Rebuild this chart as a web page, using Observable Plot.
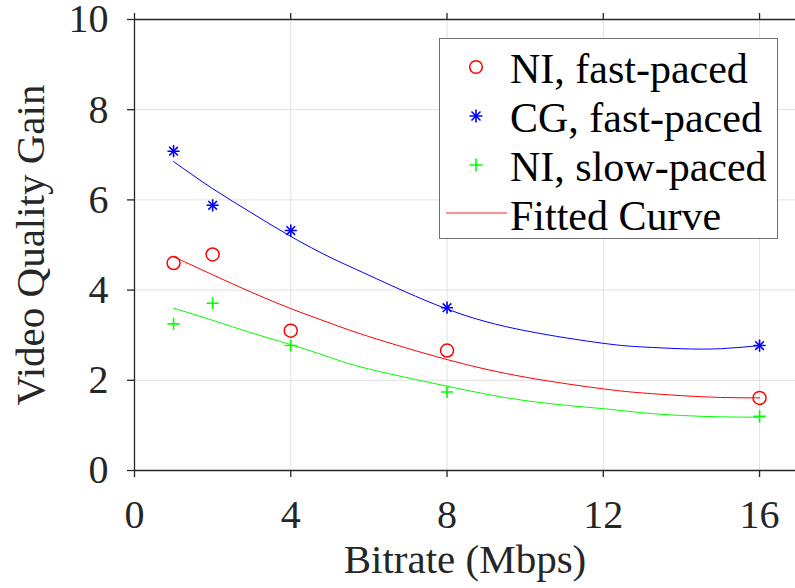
<!DOCTYPE html>
<html><head><meta charset="utf-8">
<script src="https://cdn.jsdelivr.net/npm/d3@7"></script>
<script src="https://cdn.jsdelivr.net/npm/@observablehq/plot@0.6"></script>
<style>
body{margin:0;background:#fff;}
#wrap{position:relative;width:795px;height:588px;overflow:hidden;}
#legend{position:absolute;left:439px;top:38px;width:339px;height:201px;border:1px solid #707070;background:#fff;font-family:"Liberation Serif","LiberationSerif","DejaVu Serif","Noto Serif","Times New Roman",Times,serif;font-size:42px;color:#000;box-sizing:border-box;}
.row{position:absolute;left:0;height:49px;width:100%;}
.row svg{position:absolute;left:0;top:0;}
.row span{position:absolute;left:70px;white-space:nowrap;line-height:1;}
</style></head><body><div id="wrap"></div>
<script>
// Data
const bitrate = [1, 2, 4, 8, 16];
const niFast = [4.60, 4.79, 3.10, 2.66, 1.61];
const cgFast = [7.08, 5.88, 5.32, 3.61, 2.77];
const niSlow = [3.25, 3.71, 2.77, 1.74, 1.20];

// Fitted curves
const fitX      = [1, 2, 3, 4, 5, 6, 8, 10, 12, 13, 14, 15, 16];
const fitCgFast = [6.85, 6.25, 5.71, 5.19, 4.73, 4.33, 3.58, 3.10, 2.82, 2.74, 2.70, 2.70, 2.77];
const fitNiFast = [4.74, 4.34, 3.95, 3.59, 3.27, 2.97, 2.46, 2.07, 1.81, 1.72, 1.66, 1.62, 1.61];
const fitNiSlow = [3.60, 3.33, 3.05, 2.79, 2.51, 2.25, 1.87, 1.55, 1.37, 1.28, 1.22, 1.19, 1.18];

const xTicks = [0, 4, 8, 12, 16];
const yTicks = [0, 2, 4, 6, 8, 10];
const seriesNames = ["NI, fast-paced", "CG, fast-paced", "NI, slow-paced", "Fitted Curve"];
const xLabel = "Bitrate (Mbps)";
const yLabel = "Video Quality Gain";

const RED = "#ff0000", BLUE = "#0000ff", GREEN = "#00ff00", AX = "#262626", GRID = "#e2e2e2";
const FONT = '"Liberation Serif", "LiberationSerif", "DejaVu Serif", "Noto Serif", "Times New Roman", Times, serif';

const rows = a => bitrate.map((x, i) => ({x, y: a[i]}));
const fitRows = a => fitX.map((x, i) => ({x, y: a[i]}));

const plot = Plot.plot({
  width: 795, height: 588,
  marginLeft: 134, marginTop: 19, marginBottom: 118, marginRight: 0,
  style: {fontFamily: FONT, fontSize: "40px", color: AX, background: "#fff", overflow: "visible"},
  x: {domain: [0, 16.92]},
  y: {domain: [0, 10]},
  marks: [
    Plot.gridX(xTicks, {stroke: GRID, strokeOpacity: 1}),
    Plot.gridY(yTicks, {stroke: GRID, strokeOpacity: 1}),
    Plot.line(fitRows(fitCgFast), {x: "x", y: "y", stroke: BLUE, strokeWidth: 1, curve: "natural"}),
    Plot.line(fitRows(fitNiFast), {x: "x", y: "y", stroke: RED, strokeWidth: 1, curve: "natural"}),
    Plot.line(fitRows(fitNiSlow), {x: "x", y: "y", stroke: GREEN, strokeWidth: 1, curve: "natural"}),
    Plot.dot(rows(niFast), {x: "x", y: "y", r: 6.5, stroke: RED, strokeWidth: 1.5, fill: "none"}),
    Plot.dot(rows(cgFast), {x: "x", y: "y", symbol: "plus", r: 4, stroke: BLUE, strokeWidth: 1.6}),
    Plot.dot(rows(cgFast), {x: "x", y: "y", symbol: "times", r: 4, stroke: BLUE, strokeWidth: 1.6}),
    Plot.dot(rows(niSlow), {x: "x", y: "y", symbol: "plus", r: 4, stroke: GREEN, strokeWidth: 1.6}),
    Plot.ruleX([0], {stroke: AX, strokeWidth: 1.3}),
    Plot.ruleY([0], {stroke: AX, strokeWidth: 1.3}),
    Plot.ruleY([10], {stroke: AX, strokeWidth: 1.3}),
    Plot.axisX({ticks: xTicks, tickSize: 7, tickPadding: 22, label: null, stroke: AX, strokeWidth: 1.3}),
    Plot.axisX({anchor: "top", ticks: xTicks, tickSize: 7, tickFormat: () => "", label: null, stroke: AX, strokeWidth: 1.3}),
    Plot.axisY({ticks: yTicks, tickSize: 7, tickPadding: 19, label: null, stroke: AX, strokeWidth: 1.3}),
    Plot.text([xLabel], {frameAnchor: "bottom", lineAnchor: "middle", textAnchor: "middle", dy: 89, fontSize: 41, fill: AX}),
    Plot.text([yLabel], {frameAnchor: "left", lineAnchor: "middle", textAnchor: "middle", rotate: -90, dx: -104, fontSize: 41, fill: AX})
  ]
});
const wrap = document.getElementById("wrap");
wrap.appendChild(plot);

// Legend
const leg = document.createElement("div");
leg.id = "legend";
const markers = [
  `<circle cx="36" cy="26" r="6.3" fill="none" stroke="${RED}" stroke-width="1.5"/>`,
  `<path d="M36 19.5V32.5M29.5 26H42.5M31.5 21.5L40.5 30.5M40.5 21.5L31.5 30.5" stroke="${BLUE}" stroke-width="1.6" fill="none"/>`,
  `<path d="M36 19.5V32.5M29.5 26H42.5" stroke="${GREEN}" stroke-width="1.6" fill="none"/>`,
  `<path d="M6 25H67" stroke="#ff6b6b" stroke-width="1.3"/>`
];
seriesNames.forEach((name, i) => {
  const r = document.createElement("div");
  r.className = "row";
  r.style.top = (2 + i * 48.9) + "px";
  r.innerHTML = `<svg width="70" height="49">${markers[i]}</svg><span style="top:7px">${name}</span>`;
  leg.appendChild(r);
});
wrap.appendChild(leg);
</script>
</body></html>
